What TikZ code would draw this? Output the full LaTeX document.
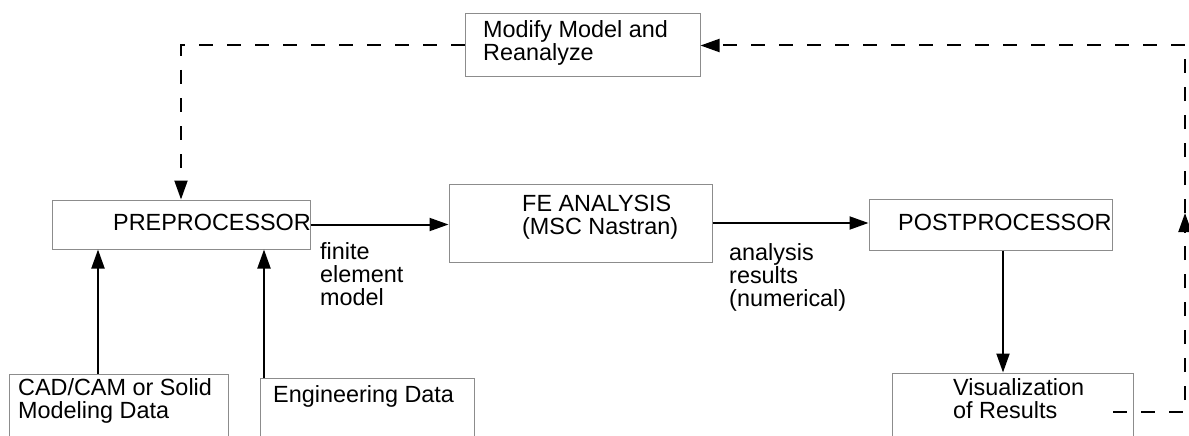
\documentclass[tikz,border=0pt]{standalone}
\usepackage{fontspec}
\setmainfont{Liberation Sans}
\usetikzlibrary{arrows.meta}
\definecolor{boxgray}{HTML}{8C8C8C}
\begin{document}
\begin{tikzpicture}[x=1pt,y=-1pt,
  box/.style={draw=boxgray, line width=1pt, inner sep=0pt},
  txt/.style={inner sep=0pt, anchor=base west, align=left,
    font=\fontsize{23.4pt}{23pt}\selectfont},
  arr/.style={line width=2pt, -{Triangle[length=19pt,width=13pt]}},
  dsh/.style={line width=2pt, dash pattern=on 14pt off 14pt}]
\useasboundingbox (0,0) rectangle (1189,436);
\clip (0,0) rectangle (1189,436);

% boxes
\node[box, minimum width=235pt, minimum height=63pt] (mod)  at (582.5,45.5) {};
\node[box, minimum width=258pt, minimum height=49pt] (pre)  at (181,224.5) {};
\node[box, minimum width=263pt, minimum height=78pt] (fe)   at (580.5,223) {};
\node[box, minimum width=243pt, minimum height=51pt] (post) at (990.5,224.5) {};
\node[box, minimum width=241pt, minimum height=77pt] (vis)  at (1012.5,411.5) {};
\node[box, minimum width=219pt, minimum height=76pt] (cad)  at (118.5,412) {};
\node[box, minimum width=214pt, minimum height=72pt] (eng)  at (367,414) {};

% box texts (multi-line nodes sit on the baseline of their last line)
\node[txt] (modtxt)  at (483,61)  {Modify Model and\\Reanalyze};
\node[txt] (pretxt)  at (113,230) {PREPROCESSOR};
\node[txt] (fetxt)   at (522,234) {FE ANALYSIS\\(MSC Nastran)};
\node[txt] (posttxt) at (898,230) {POSTPROCESSOR};
\node[txt] (vistxt)  at (953,418) {Visualization\\of Results};
\node[txt] (cadtxt)  at (18,418)  {CAD/CAM or Solid\\Modeling Data};
\node[txt] (engtxt)  at (273,402) {Engineering Data};

% connector labels
\node[txt] (femodel) at (320,305) {finite\\element\\model};
\node[txt] (results) at (729,306) {analysis\\results\\(numerical)};

% main flow
\draw[arr] (pre.east) -- (pre.east -| fe.west);
\draw[arr] (fe.east) -- (fe.east -| post.west);
\draw[arr] (post.south -| 1003,0) -- (vis.north -| 1003,0);
\draw[arr] (cad.north -| 98,0) -- (pre.south -| 98,0);
\draw[arr] (eng.north -| 264,0) -- (pre.south -| 264,0);

% feedback loop
\coordinate (fbstart) at (1113,412);
\coordinate (fbup) at (1185,213);
\draw[dsh, arr] (fbstart) -| (fbup);
\draw[dsh, arr] (fbup) |- (mod.east);
\draw[dsh, arr] (mod.west) -| (pre.north);
\end{tikzpicture}
\end{document}
